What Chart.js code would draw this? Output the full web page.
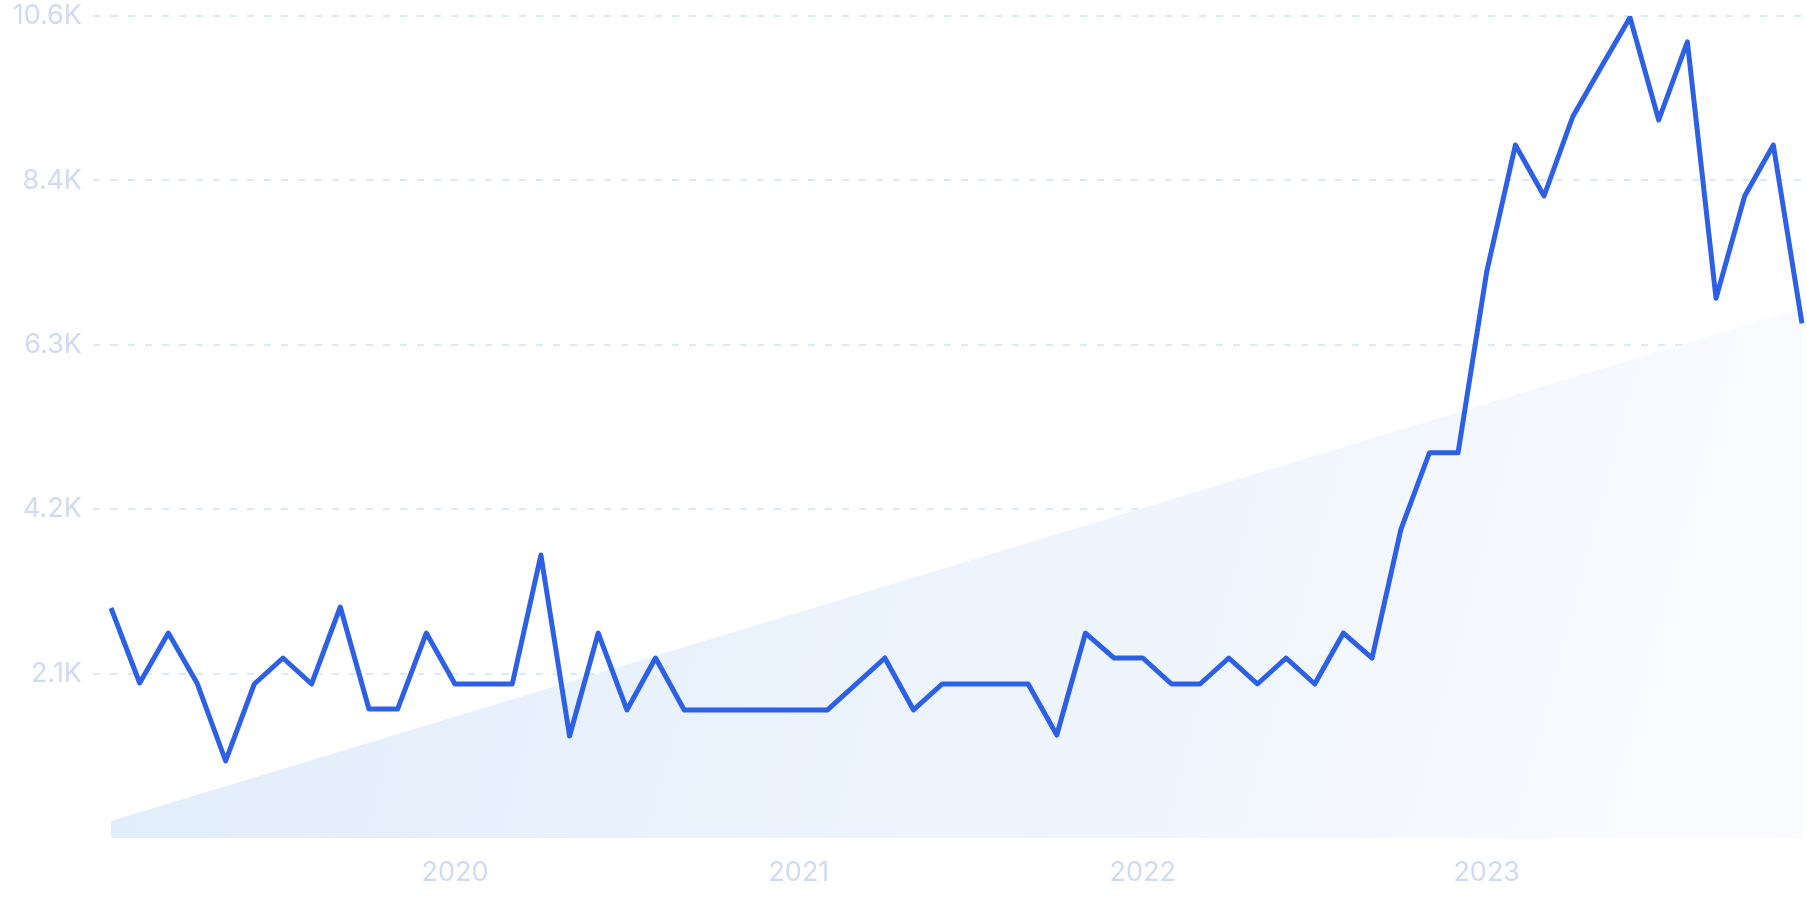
<!DOCTYPE html>
<html>
<head>
<meta charset="utf-8">
<script src="https://cdn.jsdelivr.net/npm/chart.js@4.4.0/dist/chart.umd.min.js"></script>
<style>
  html, body { margin: 0; padding: 0; background: #fff; }
  #wrap { width: 1807px; height: 903px; position: relative; }
</style>
</head>
<body>
<div id="wrap"><canvas id="trendChart"></canvas></div>
<script>
// monthly categories, Jan 2019 - Dec 2023
const years = [2019, 2020, 2021, 2022, 2023];
const months = ['01', '02', '03', '04', '05', '06', '07', '08', '09', '10', '11', '12'];
const labels = [];
years.forEach(y => months.forEach(m => labels.push(y + '-' + m)));

// search volume, one value per month
const volume = [
  2966, 1999, 2643, 1999, 993, 1986, 2321, 1986, 2979, 1663, 1663, 2643,
  1986, 1986, 1986, 3649, 1315, 2643, 1651, 2321, 1651, 1651, 1651, 1651,
  1651, 1651, 1986, 2321, 1651, 1986, 1986, 1986, 1986, 1328, 2643, 2321,
  2321, 1986, 1986, 2321, 1986, 2321, 1986, 2643, 2321, 3972, 4968, 4968,
  7303, 8936, 8279, 9301, 9946, 10580, 9259, 10268, 6960, 8279, 8936, 6637
];

// trend band, first and last month
const trendStart = 219;
const trendEnd = 6834;

const yTickValues = [0, 2120, 4240, 6360, 8480, 10600];
const yTickLabels = ['', '2.1K', '4.2K', '6.3K', '8.4K', '10.6K'];
const xTickLabels = ['2020', '2021', '2022', '2023'];

const labelColor = '#CFDAF4';
const gridColor = '#D8E9F9';
const lineColor = '#2E60E5';
const font = { family: 'Inter', size: 27 };

// no grid line at zero
const gridAt = (c) => c.tick && c.tick.value === 0 ? 'rgba(0,0,0,0)' : gridColor;

const ctx = document.getElementById('trendChart').getContext('2d');

new Chart(ctx, {
    type: 'line',
    data: {
        labels: labels,
        datasets: [{
            label: 'Volume',
            data: volume,
            borderColor: lineColor,
            borderWidth: 5,
            borderJoinStyle: 'round',
            borderCapStyle: 'butt',
            pointRadius: 0,
            pointHoverRadius: 0,
            tension: 0,
            fill: false
        }, {
            label: 'Trend',
            data: [
                { x: labels[0], y: trendStart },
                { x: labels[labels.length - 1], y: trendEnd }
            ],
            borderWidth: 0,
            borderColor: 'rgba(0,0,0,0)',
            pointRadius: 0,
            pointHoverRadius: 0,
            tension: 0,
            fill: 'origin',
            backgroundColor: (c) => {
                const area = c.chart.chartArea;
                if (!area) return '#E6F0FB';
                const g = c.chart.ctx.createLinearGradient(area.left, area.top + (area.bottom - area.top) * 0.45, area.right, area.bottom);
                g.addColorStop(0, '#E1EDFB');
                g.addColorStop(0.6, '#EFF5FD');
                g.addColorStop(1, '#FBFCFF');
                return g;
            }
        }]
    },
    options: {
        responsive: true,
        maintainAspectRatio: false,
        animation: false,
        layout: { autoPadding: false, padding: { top: 16, right: 5, left: 0, bottom: 0 } },
        plugins: {
            legend: { display: false },
            tooltip: { enabled: false }
        },
        scales: {
            x: {
                type: 'category',
                offset: false,
                grid: { display: false },
                border: { display: false },
                ticks: {
                    autoSkip: false,
                    maxRotation: 0,
                    padding: 11,
                    color: labelColor,
                    font: font,
                    callback: function (value, index) {
                        const lab = labels[index];
                        const yr = lab.slice(0, 4);
                        return lab.endsWith('-01') && xTickLabels.includes(yr) ? yr : '';
                    }
                },
                afterFit: (axis) => {
                    axis.height = 65;
                    axis.paddingLeft = 0;
                    axis.paddingRight = 0;
                }
            },
            y: {
                min: 0,
                max: 10600,
                border: { display: false, dash: [7, 10] },
                grid: {
                    color: gridAt,
                    tickColor: gridAt,
                    lineWidth: 2,
                    tickWidth: 2,
                    tickBorderDash: [7, 10],
                    drawTicks: true,
                    tickLength: 18
                },
                afterBuildTicks: (axis) => {
                    axis.ticks = yTickValues.map(v => ({ value: v }));
                },
                ticks: {
                    padding: 11,
                    color: labelColor,
                    font: font,
                    callback: function (value) {
                        return yTickLabels[yTickValues.indexOf(value)];
                    }
                },
                afterFit: (axis) => {
                    axis.width = 111;
                    axis.paddingTop = 0;
                    axis.paddingBottom = 0;
                }
            }
        }
    }
});
</script>
</body>
</html>
